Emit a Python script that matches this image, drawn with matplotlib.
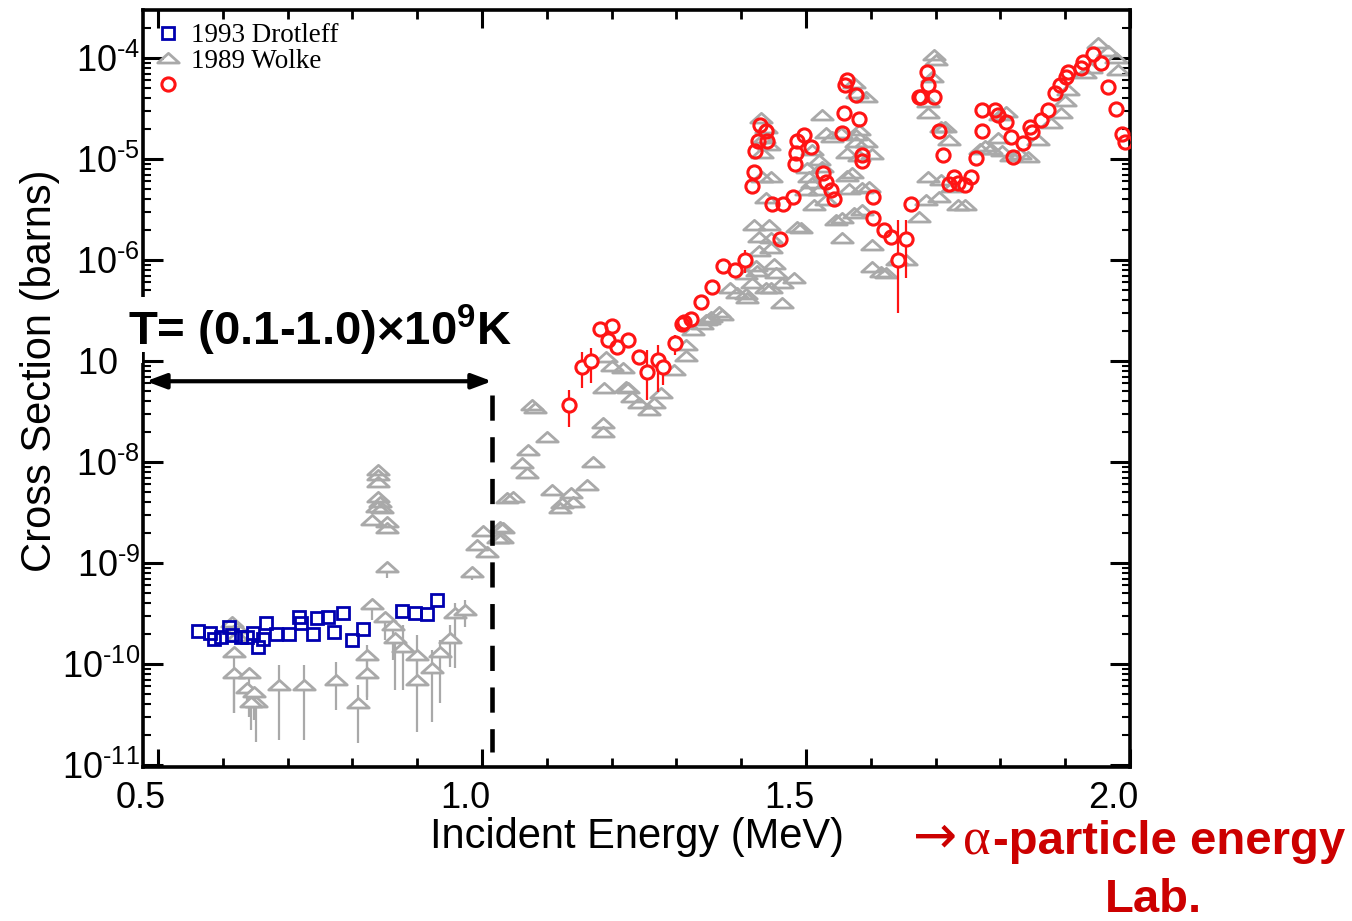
import numpy as np
import matplotlib
matplotlib.use("Agg")
import matplotlib.pyplot as plt
from matplotlib.path import Path
from matplotlib.lines import Line2D
from matplotlib.patches import Rectangle
from matplotlib.ticker import NullFormatter
from matplotlib.transforms import ScaledTranslation

plt.rcParams['font.family'] = ['Liberation Sans', 'DejaVu Sans']
plt.rcParams['mathtext.fontset'] = 'custom'
plt.rcParams['mathtext.rm'] = 'Liberation Sans'
plt.rcParams['mathtext.bf'] = 'Liberation Sans:bold'
plt.rcParams['mathtext.it'] = 'Liberation Sans:italic'

# ---------------- data (E in MeV, log10 of cross section in barns) ----------------
drot_E = [0.562, 0.580, 0.586, 0.597, 0.609, 0.615, 0.628, 0.638, 0.646, 0.654,
          0.662, 0.666, 0.682, 0.702, 0.717, 0.720, 0.740, 0.745, 0.762, 0.771,
          0.786, 0.800, 0.817, 0.877, 0.897, 0.915, 0.931]
drot_log = [-9.673, -9.693, -9.752, -9.733, -9.634, -9.713, -9.733, -9.733, -9.693, -9.832,
            -9.752, -9.594, -9.703, -9.703, -9.535, -9.594, -9.703, -9.545, -9.535, -9.683,
            -9.495, -9.762, -9.653, -9.475, -9.495, -9.505, -9.366]

# Wolke points with error bars
wolke_err_E = [0.617, 0.617, 0.640, 0.637, 0.648, 0.651, 0.643, 0.686, 0.725, 0.774,
               0.808, 0.822, 0.822, 0.831, 0.854, 0.851, 0.863, 0.866, 0.878, 0.900,
               0.900, 0.923, 0.935, 0.951, 0.958, 0.974, 0.985]
wolke_err_log = [-9.881, -10.089, -10.089, -10.238, -10.277, -10.376, -10.376, -10.208, -10.208, -10.158,
                 -10.386, -9.911, -10.089, -9.406, -9.040, -9.535, -9.614, -9.743, -9.832, -9.911,
                 -10.158, -10.040, -9.881, -9.743, -9.495, -9.465, -9.089]
wolke_err_lo = [-10.485, -10.485, -10.525, -10.406, -10.554, -10.772, -10.653, -10.752, -10.752, -10.455,
                -10.782, -10.356, -10.327, -9.564, -9.149, -9.762, -9.960, -10.257, -10.257, -10.228,
                -10.673, -10.574, -10.386, -10.030, -10.040, -9.634, -9.168]
wolke_err_hi = [-9.881, -10.089, -10.089, -10.238, -10.277, -10.376, -10.376, -10.010, -10.010, -9.980,
                -10.208, -9.812, -9.960, -9.406, -9.040, -9.535, -9.614, -9.743, -9.614, -9.713,
                -9.960, -9.861, -9.762, -9.614, -9.396, -9.366, -9.089]

# Wolke points without visible error bars
wolke_E = [0.614, 0.622, 0.622,
           1.002, 0.992, 1.008, 1.025, 1.032, 1.038,
           0.840, 0.840, 0.840, 0.840, 0.843, 0.838, 0.846, 0.831, 0.854, 0.854,
           1.028, 1.031, 1.048, 1.062, 1.069, 1.071, 1.082, 1.077, 1.100, 1.108,
           1.123, 1.120, 1.138, 1.140, 1.162, 1.171, 1.186, 1.186, 1.189, 1.225,
           1.232, 1.243, 1.258, 1.266, 1.277, 1.192, 1.200, 1.217, 1.223, 1.297,
           1.315, 1.315, 1.325, 1.340, 1.351, 1.354, 1.366, 1.371, 1.346, 1.382,
           1.394, 1.408, 1.409, 1.408, 1.417, 1.423, 1.425, 1.438, 1.446, 1.451,
           1.454, 1.463, 1.463, 1.482, 1.420, 1.443, 1.486, 1.428, 1.446, 1.428,
           1.446, 1.492, 1.431, 1.438, 1.435, 1.443, 1.432, 1.432, 1.446, 1.438,
           1.525, 1.531, 1.540, 1.509, 1.520, 1.525, 1.502, 1.505, 1.509, 1.500,
           1.512, 1.520, 1.531, 1.563, 1.566, 1.586, 1.597, 1.571, 1.555, 1.546,
           1.574, 1.586, 1.555, 1.563, 1.582, 1.602, 1.554, 1.577, 1.577, 1.592,
           1.582, 1.574, 1.578, 1.592, 1.602, 1.602, 1.615, 1.623, 1.640, 1.654,
           1.674, 1.685, 1.705, 1.689, 1.709, 1.725, 1.735, 1.746, 1.689, 1.708,
           1.689, 1.694, 1.700, 1.697, 1.720, 1.715, 1.769, 1.777, 1.786, 1.802,
           1.817, 1.831, 1.843, 1.797, 1.800, 1.808, 1.858, 1.878, 1.894, 1.900,
           1.905, 1.931, 1.940, 1.951, 1.966, 1.978, 1.982]
wolke_log = [-9.584, -9.644, -9.723,
             -8.683, -8.822, -8.891, -8.753, -8.654, -8.357,
             -8.079, -8.129, -8.198, -8.347, -8.396, -8.446, -8.456, -8.574, -8.594, -8.654,
             -8.644, -8.753, -8.347, -8.010, -8.109, -7.881, -7.466, -7.436, -7.753, -8.277,
             -8.406, -8.456, -8.307, -8.396, -8.228, -8.000, -7.614, -7.703, -7.268, -7.268,
             -7.356, -7.416, -7.485, -7.416, -7.317, -6.960, -7.050, -7.069, -7.257, -7.089,
             -6.842, -6.950, -6.693, -6.634, -6.584, -6.564, -6.515, -6.545, -6.594, -6.277,
             -6.327, -6.337, -6.376, -6.139, -6.228, -6.059, -6.109, -6.277, -6.277, -6.040,
             -6.129, -6.228, -6.426, -6.178, -5.653, -5.653, -5.673, -5.772, -5.782, -5.911,
             -5.881, -5.683, -4.594, -4.693, -4.792, -4.861, -4.941, -5.178, -5.178, -5.386,
             -4.564, -4.743, -4.782, -4.911, -5.010, -5.079, -5.089, -5.178, -5.238, -5.307,
             -5.455, -5.307, -5.406, -5.168, -5.297, -5.287, -5.277, -5.138, -5.584, -5.604,
             -5.535, -5.505, -5.782, -4.941, -4.970, -4.950, -4.743, -4.762, -4.832, -4.832,
             -4.713, -4.248, -4.347, -4.386, -5.851, -6.069, -6.119, -6.129, -5.999, -5.999,
             -5.574, -5.406, -5.376, -5.178, -5.208, -5.277, -5.455, -5.455, -4.545, -4.683,
             -4.436, -4.188, -4.020, -3.970, -4.812, -4.683, -4.901, -4.871, -4.901, -4.921,
             -4.970, -4.950, -4.980, -4.792, -4.564, -4.535, -4.812, -4.644, -4.545, -4.426,
             -4.317, -4.149, -4.099, -3.851, -3.931, -4.000, -4.119]

# New data (red circles) with error bars
new_err_E = [1.134, 1.155, 1.169, 1.254, 1.271, 1.280, 1.298, 1.406, 1.642, 1.654]
new_err_log = [-7.436, -7.060, -7.000, -7.109, -6.990, -7.060, -6.822, -6.000, -6.000, -5.792]
new_err_lo = [-7.653, -7.268, -7.218, -7.386, -7.307, -7.238, -6.941, -6.129, -6.525, -6.178]
new_err_hi = [-7.287, -6.911, -6.871, -6.891, -6.842, -6.941, -6.743, -5.901, -5.604, -5.604]

# New data (red circles) without visible error bars
new_E = [1.182, 1.200, 1.195, 1.209, 1.226, 1.243, 1.309, 1.322, 1.312, 1.338,
         1.355, 1.372, 1.391, 1.460, 1.448, 1.465, 1.480, 1.417, 1.420, 1.422,
         1.426, 1.440, 1.429, 1.438, 1.483, 1.485, 1.486, 1.497, 1.508, 1.526,
         1.531, 1.538, 1.543, 1.555, 1.558, 1.582, 1.560, 1.563, 1.577, 1.586,
         1.586, 1.603, 1.603, 1.620, 1.631, 1.662, 1.674, 1.686, 1.688, 1.677,
         1.697, 1.705, 1.711, 1.720, 1.728, 1.735, 1.746, 1.754, 1.762, 1.771,
         1.792, 1.797, 1.808, 1.771, 1.817, 1.820, 1.835, 1.846, 1.848, 1.862,
         1.874, 1.885, 1.892, 1.902, 1.905, 1.925, 1.928, 1.943, 1.955, 1.966,
         1.978, 1.988, 1.992]
new_log = [-6.683, -6.653, -6.792, -6.861, -6.792, -6.960, -6.634, -6.584, -6.614, -6.416,
           -6.267, -6.059, -6.099, -5.792, -5.446, -5.446, -5.376, -5.267, -5.129, -4.921,
           -4.822, -4.822, -4.663, -4.723, -5.050, -4.941, -4.822, -4.762, -4.881, -5.139,
           -5.228, -5.307, -5.396, -4.743, -4.545, -4.604, -4.267, -4.218, -4.366, -4.960,
           -5.020, -5.376, -5.584, -5.703, -5.772, -5.446, -4.386, -4.139, -4.267, -4.386,
           -4.386, -4.723, -4.960, -5.248, -5.178, -5.238, -5.257, -5.178, -4.990, -4.515,
           -4.515, -4.564, -4.634, -4.723, -4.782, -4.980, -4.842, -4.683, -4.733, -4.614,
           -4.515, -4.347, -4.267, -4.188, -4.139, -4.099, -4.040, -3.960, -4.050, -4.287,
           -4.505, -4.752, -4.832]

legend_labels = ['1993 Drotleff', '1989 Wolke', '']
x_major = [0.5, 1.0, 1.5, 2.0]
x_labels = ['0.5', '1.0', '1.5', '2.0']
y_exponents = [-11, -10, -9, -8, -7, -6, -5, -4]
range_start, range_end = 0.4815, 1.0154     # MeV, T = (0.1-1.0)x10^9 K window
range_level = 6.3e-8

# ---------------- styling ----------------
BLUE = '#0000b0'
GRAY = '#a9a9a9'
RED = '#ff1414'
DARKRED = '#cc0000'

tri = Path([(-1.0, -0.42), (1.0, -0.42), (0.0, 0.48), (-1.0, -0.42)],
           [Path.MOVETO, Path.LINETO, Path.LINETO, Path.CLOSEPOLY])

fig = plt.figure(figsize=(13.52, 9.21), dpi=100)
W, H = 1352, 921
ax = fig.add_axes([143 / W, 1 - 767 / H, (1130 - 143) / W, (767 - 10) / H])
ax.set_yscale('log')

def tolin(v):
    return 10.0 ** np.asarray(v, dtype=float)

# Wolke (gray triangles)
we = np.asarray(wolke_err_E)
wl = tolin(wolke_err_log)
wlo = tolin(wolke_err_lo)
whi = tolin(wolke_err_hi)
ax.errorbar(we, wl, yerr=[wl - wlo, whi - wl], fmt='none', ecolor=GRAY,
            elinewidth=1.6, capsize=0, zorder=2)
ax.plot(we, wl, ls='none', marker=tri, ms=15.5, mfc='white', mec=GRAY, mew=2.0, zorder=2.1)
ax.plot(wolke_E, tolin(wolke_log), ls='none', marker=tri, ms=15.5, mfc='none',
        mec=GRAY, mew=2.0, zorder=2.1)

# Drotleff (blue squares)
ax.plot(drot_E, tolin(drot_log), ls='none', marker='s', ms=9, mfc='none',
        mec=BLUE, mew=2.0, zorder=3)

# new data (red circles)
ne = np.asarray(new_err_E)
nl = tolin(new_err_log)
nlo = tolin(new_err_lo)
nhi = tolin(new_err_hi)
ax.errorbar(ne, nl, yerr=[nl - nlo, nhi - nl], fmt='none', ecolor=RED,
            elinewidth=1.6, capsize=0, zorder=4)
ax.plot(ne, nl, ls='none', marker='o', ms=9.5, mfc='white', mec=RED, mew=2.2, zorder=4.1)
ax.plot(new_E, tolin(new_log), ls='none', marker='o', ms=9.5, mfc='none',
        mec=RED, mew=2.2, zorder=4.1)

# axes limits / ticks
ax.set_xlim(0.4769, 2.0)
ax.set_ylim(10 ** -11.02, 10 ** -3.525)
ax.set_xticks(x_major)
ax.set_xticklabels(x_labels)
ax.set_xticks(np.arange(0.5, 2.0001, 0.1), minor=True)
ax.set_yticks([10.0 ** e for e in y_exponents])
ax.set_yticklabels([r'$10^{\text{%d}}$' % e for e in y_exponents])
ax.yaxis.set_minor_formatter(NullFormatter())
ax.tick_params(which='both', direction='in', top=True, right=True, labelsize=26,
               colors='black')
ax.tick_params(axis='x', which='major', length=13, width=2.2, pad=10)
ax.tick_params(axis='x', which='minor', length=6.5, width=2.0)
ax.tick_params(axis='y', which='major', length=14.5, width=2.2, pad=2)
ax.tick_params(axis='y', which='minor', length=6, width=1.5)
for s in ax.spines.values():
    s.set_linewidth(2.6)

for lab in ax.get_xticklabels():
    lab.set_transform(lab.get_transform() + ScaledTranslation(-0.17, 0, fig.dpi_scale_trans))

ax.set_xlabel('Incident Energy (MeV)', fontsize=30)
ax.xaxis.set_label_coords(0.5, -0.066)
ax.set_ylabel('Cross Section (barns)', fontsize=30)
ax.yaxis.set_label_coords(-0.084, 0.524)

# legend
h_blue = Line2D([], [], ls='none', marker='s', ms=9, mfc='none', mec=BLUE, mew=2.0)
h_gray = Line2D([], [], ls='none', marker=tri, ms=15.5, mfc='none', mec=GRAY, mew=2.0)
h_red = Line2D([], [], ls='none', marker='o', ms=9.5, mfc='none', mec=RED, mew=2.2)
leg = ax.legend([h_blue, h_gray, h_red], legend_labels, loc='upper left',
                bbox_to_anchor=(0.006, 0.99), frameon=False,
                prop={'family': 'Liberation Serif', 'size': 19.5},
                handlelength=1.0, handletextpad=0.35, labelspacing=0.02,
                borderaxespad=0.0, borderpad=0.2)

# temperature window arrow and dashed line
ax.annotate('', xy=(range_start, range_level), xytext=(range_end, range_level),
            arrowprops=dict(arrowstyle='<|-|>,head_length=1.2,head_width=0.45',
                            color='black', lw=3, shrinkA=0, shrinkB=0), zorder=6)
ax.plot([range_end, range_end], [10 ** -7.34, 10 ** -10.87], color='black', lw=3.3,
        dashes=(5.5, 3.6), zorder=6)

# white box with label (also hides part of the left axis, as in the original slide)
fig.patches.append(Rectangle((118 / W, 1 - 352 / H), (520 - 118) / W, (352 - 297) / H,
                             transform=fig.transFigure, facecolor='white',
                             edgecolor='none', zorder=5))
fig.patches.append(Rectangle((119 / W, 1 - 363 / H), (142 - 119) / W, (363 - 330) / H,
                             transform=fig.transFigure, facecolor='white',
                             edgecolor='none', zorder=5))
fig.text(128 / W, 1 - 345 / H, r'T= (0.1-1.0)×10$^{\mathbf{9}}$K', fontsize=34,
         fontweight='bold', ha='left', va='baseline', zorder=7)

# red note
fig.text(1345 / W, 1 - 854 / H, '-particle energy', fontsize=34, fontweight='bold',
         color=DARKRED, ha='right', va='baseline')
fig.text(991 / W, 1 - 854 / H, 'α', fontsize=38, family='Liberation Serif',
         color=DARKRED, ha='right', va='baseline')
fig.text(957 / W, 1 - 852 / H, '→', fontsize=38, family='DejaVu Sans',
         color=DARKRED, ha='right', va='baseline')
fig.text(1153 / W, 1 - 912 / H, 'Lab.', fontsize=34, fontweight='bold',
         color=DARKRED, ha='center', va='baseline')

fig.savefig('out.png', dpi=100)
